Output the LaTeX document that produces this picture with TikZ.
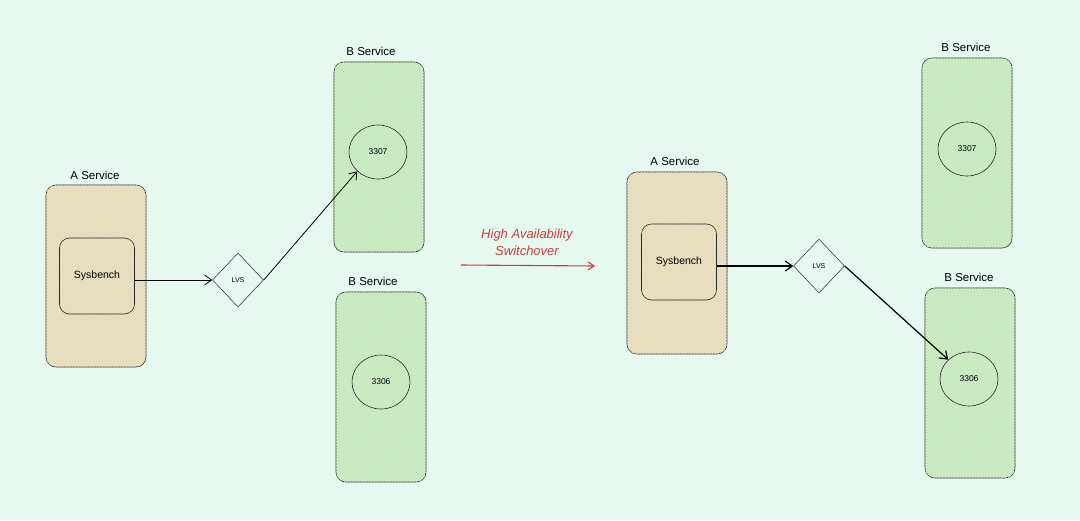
\documentclass[tikz,border=0pt]{standalone}
\usepackage{fontspec}
\setmainfont{Liberation Sans}
\usetikzlibrary{arrows.meta,shapes.geometric,patterns}
\definecolor{bgc}{RGB}{229,249,241}
\definecolor{afill}{RGB}{238,229,202}
\definecolor{ahatch}{RGB}{220,208,172}
\definecolor{bfill}{RGB}{210,239,204}
\definecolor{bhatch}{RGB}{186,226,178}
\definecolor{edgec}{RGB}{40,40,40}
\definecolor{redc}{RGB}{205,60,60}
\tikzset{
  abox/.style={draw=edgec, line width=0.6pt, rounded corners=10pt, fill=afill, postaction={pattern=north east lines, pattern color=ahatch}, minimum width=100pt, minimum height=182pt, inner sep=0pt},
  bbox/.style={draw=edgec, line width=0.6pt, rounded corners=10pt, fill=bfill, postaction={pattern=north east lines, pattern color=bhatch}, minimum width=90pt, minimum height=190pt, inner sep=0pt},
  sysbox/.style={draw=edgec, line width=0.6pt, rounded corners=10pt, minimum width=75pt, minimum height=76pt, inner sep=0pt, font=\fontsize{10.5}{12}\selectfont},
  lvs/.style={diamond, draw=edgec, line width=0.5pt, fill=bgc, minimum width=51pt, minimum height=54pt, inner sep=0pt, font=\fontsize{7}{8}\selectfont},
  port/.style={ellipse, draw=edgec, line width=0.6pt, minimum width=58pt, minimum height=54pt, inner sep=0pt, font=\fontsize{8.5}{10}\selectfont},
  title/.style={font=\fontsize{11.5}{13}\selectfont, inner sep=0pt},
  conn/.style={draw=black, line width=0.8pt, -{Straight Barb[length=7pt,width=10pt]}},
  connb/.style={draw=black, line width=1.2pt, -{Straight Barb[length=7pt,width=10pt]}},
}
\begin{document}
\begin{tikzpicture}[x=1pt,y=-1pt]
\fill[bgc] (0,0) rectangle (1080,520);
\useasboundingbox (0,0) rectangle (1080,520);

% ---- left side ----
\node[abox] (A1) at (96,276) {};
\node[title] (A1t) at (95,175) {A Service};
\node[sysbox] (S1) at (97,276) {Sysbench};
\node[lvs] (L1) at (238,280) {LVS};

\node[bbox] (B1) at (379,157) {};
\node[title] (B1t) at (371,51) {B Service};
\node[port] (P1) at (378,152) {3307};

\node[bbox] (B2) at (381,387) {};
\node[title] (B2t) at (373,281) {B Service};
\node[port] (P2) at (381,382) {3306};

\draw[conn] (S1.east |- L1.west) -- (L1.west);
\draw[conn] (L1.east) -- (P1.south west);

% ---- middle ----
\node[font=\itshape\fontsize{13}{15}\selectfont, text=redc, align=center, inner sep=0pt] (HA) at (527,242) {High Availability\\[2pt]Switchover};
\coordinate (m1) at (461,265);
\coordinate (m2) at (595,266);
\draw[draw=redc, line width=1.1pt, -{Straight Barb[length=6pt,width=8pt]}] (m1) -- (m2);

% ---- right side ----
\node[abox] (A2) at (677,263) {};
\node[title] (A2t) at (675,161) {A Service};
\node[sysbox] (S2) at (679,262) {Sysbench};
\node[lvs] (L2) at (819,266) {LVS};

\node[bbox] (B3) at (967,153) {};
\node[title] (B3t) at (966,47) {B Service};
\node[port] (P3) at (967,149) {3307};

\node[bbox] (B4) at (970,383) {};
\node[title] (B4t) at (969,277) {B Service};
\node[port] (P4) at (969,379) {3306};

\draw[connb] (S2.east |- L2.west) -- (L2.west);
\draw[connb] (L2.east) -- (P4.north west);
\end{tikzpicture}
\end{document}
